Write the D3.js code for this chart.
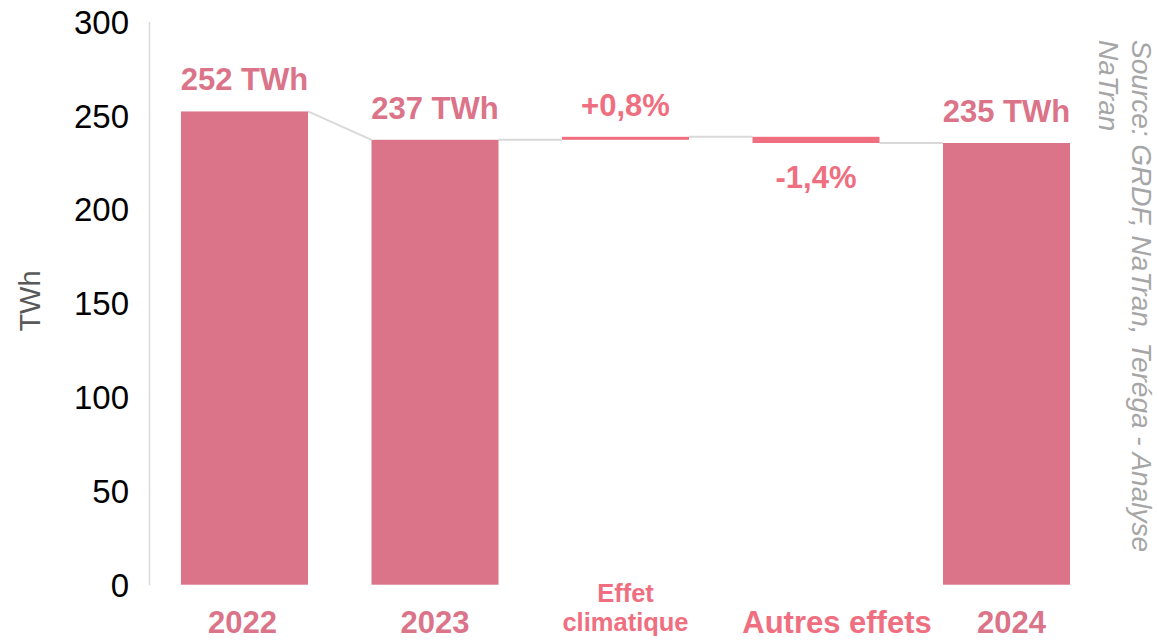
<!DOCTYPE html>
<html>
<head>
<meta charset="utf-8">
<script src="https://cdn.jsdelivr.net/npm/d3@7"></script>
<style>
  html, body { margin: 0; padding: 0; background: #fff; }
  svg { display: block; }
</style>
</head>
<body>
<svg id="chart" width="1158" height="641"></svg>
<script>
// ---- data ----
const categories = ["2022", "2023", "Effet climatique", "Autres effets", "2024"];
const barTypes   = ["total", "total", "delta", "delta", "total"];
const values     = [252, 236.9, 1.6, -3.3, 235.2];
const valueLabels = ["252 TWh", "237 TWh", "+0,8%", "-1,4%", "235 TWh"];
const categoryLines = [["2022"], ["2023"], ["Effet", "climatique"], ["Autres effets"], ["2024"]];
const yTicks = [0, 50, 100, 150, 200, 250, 300];
const yTitle = "TWh";
const sourceLines = ["Source: GRDF, NaTran, Teréga - Analyse", "NaTran"];

// ---- styles ----
const totalColor = "#db7389";
const deltaColor = "#ef6e80";
const connectorColor = "#d9d9d9";
const FONT = "'Liberation Sans', Arial, sans-serif";
const catLabelShift = [-2, 0, 0, 21, 5];

const svg = d3.select("#chart");

// build waterfall rows
let running = 0;
const rows = categories.map((c, i) => {
  let start, end;
  if (barTypes[i] === "total") { start = 0; end = values[i]; running = values[i]; }
  else { start = running; end = running + values[i]; running = end; }
  return { i, cat: c, type: barTypes[i], value: values[i], start, end,
           lo: Math.min(start, end), hi: Math.max(start, end),
           label: valueLabels[i], lines: categoryLines[i] };
});

const x = d3.scaleBand().domain(categories).range([149.25, 1101.75])
  .paddingInner(0.3334).paddingOuter(0.1667);
const y = d3.scaleLinear().domain([0, 300]).range([584.7, 21.3]);

// y axis
const yAxis = d3.axisLeft(y).tickValues(yTicks).tickSize(0).tickPadding(20)
  .tickFormat(d3.format("d"));
const gy = svg.append("g").attr("transform", "translate(149,0)").call(yAxis);
gy.select(".domain").attr("stroke", connectorColor).attr("stroke-width", 1.5);
gy.selectAll("text").attr("font-family", FONT).attr("font-size", 33)
  .attr("fill", "#000").attr("dy", "0.36em");

// y title
svg.append("text")
  .attr("transform", "translate(40,301) rotate(-90)")
  .attr("text-anchor", "middle")
  .attr("font-family", FONT).attr("font-size", 29).attr("fill", "#595959")
  .text(yTitle);

// connectors
const conn = [];
for (let i = 0; i < rows.length - 1; i++) {
  const a = rows[i], b = rows[i + 1];
  const bStart = b.type === "total" ? b.end : b.start;
  conn.push({ x1: x(a.cat) + x.bandwidth(), y1: y(a.end), x2: x(b.cat), y2: y(bStart) });
}
svg.append("g").selectAll("line").data(conn).join("line")
  .attr("x1", d => d.x1).attr("y1", d => d.y1)
  .attr("x2", d => d.x2).attr("y2", d => d.y2)
  .attr("stroke", connectorColor).attr("stroke-width", 2);

// bars
svg.append("g").selectAll("rect").data(rows).join("rect")
  .attr("x", d => x(d.cat))
  .attr("y", d => y(d.hi))
  .attr("width", x.bandwidth())
  .attr("height", d => y(d.lo) - y(d.hi))
  .attr("fill", d => d.type === "total" ? totalColor : deltaColor);

// value labels
svg.append("g").selectAll("text").data(rows).join("text")
  .attr("x", d => x(d.cat) + x.bandwidth() / 2)
  .attr("y", d => d.value >= 0 ? y(d.hi) - 21 : y(d.lo) + 45)
  .attr("text-anchor", "middle")
  .attr("font-family", FONT).attr("font-weight", "bold").attr("font-size", 31)
  .attr("fill", d => d.type === "total" ? totalColor : deltaColor)
  .text(d => d.label);

// category labels (one text element per line)
const catLines = [];
rows.forEach(d => {
  const n = d.lines.length;
  d.lines.forEach((ln, j) => catLines.push({ d, ln, j, n }));
});
svg.append("g").selectAll("text").data(catLines).join("text")
  .attr("x", o => x(o.d.cat) + x.bandwidth() / 2 + catLabelShift[o.d.i])
  .attr("y", o => o.n === 1 ? 633 : 602 + o.j * 29)
  .attr("text-anchor", "middle")
  .attr("font-family", FONT).attr("font-weight", "bold")
  .attr("font-size", o => o.n > 1 ? 25.5 : 31)
  .attr("fill", o => o.d.type === "total" ? totalColor : deltaColor)
  .text(o => o.ln);

// source (rotated)
const src = svg.append("g").attr("transform", "translate(1156,40) rotate(90)");
src.selectAll("text").data(sourceLines).join("text")
  .attr("x", 0).attr("y", (d, i) => 24 + i * 33)
  .attr("font-family", FONT).attr("font-style", "italic").attr("font-size", 28)
  .attr("fill", "#a6a6a6")
  .text(d => d);
</script>
</body>
</html>
